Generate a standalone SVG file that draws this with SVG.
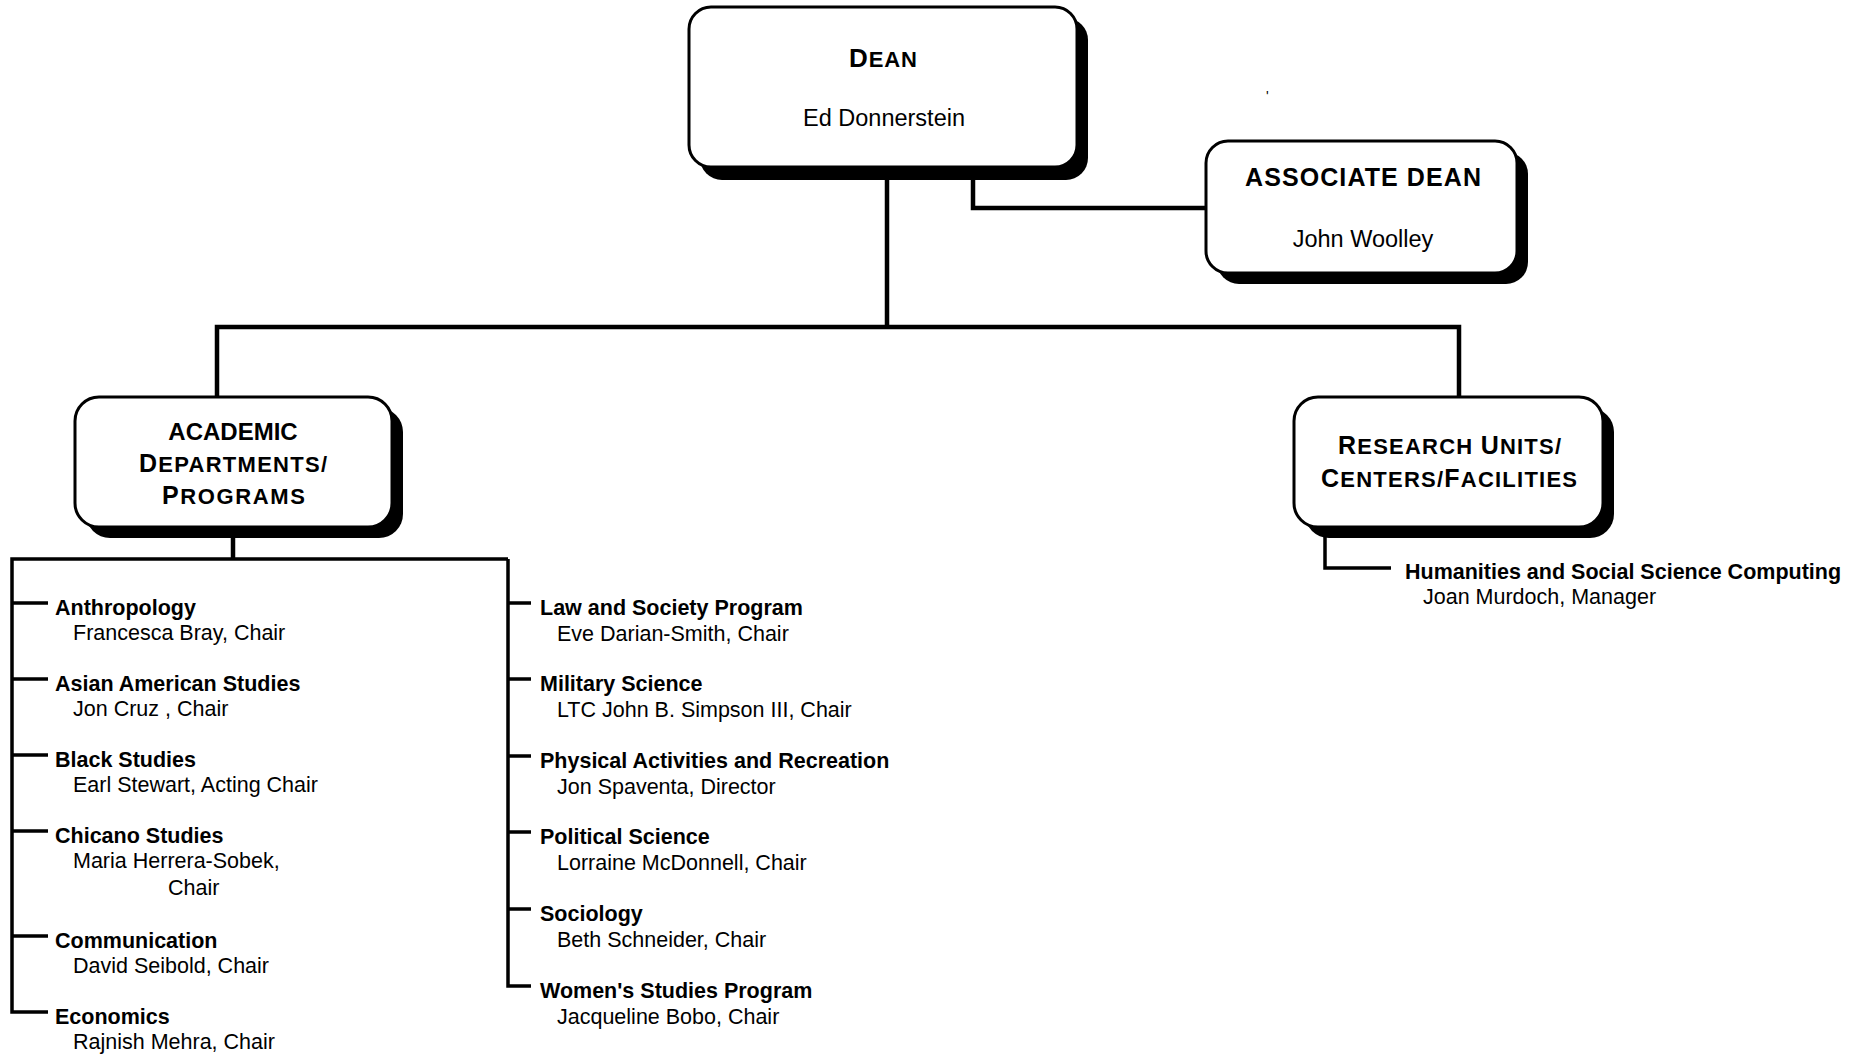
<svg xmlns="http://www.w3.org/2000/svg" width="1866" height="1054" viewBox="0 0 1866 1054">
<style>
.bg{fill:#fff}
.box{fill:#fff;stroke:#000;stroke-width:3}
.shadow{fill:#000}
text{font-family:"Liberation Sans",Arial,sans-serif;fill:#000}
.title{font-weight:bold}
.sub{font-size:23.5px}
.h{font-weight:bold;font-size:21.5px}
.n{font-size:21.5px}
.conn{fill:none;stroke:#000;stroke-width:4.5;stroke-linejoin:miter;stroke-linecap:butt}
.list{fill:none;stroke:#000;stroke-width:3.5;stroke-linejoin:miter}
</style>
<rect class="bg" x="0" y="0" width="1866" height="1054"/>
<g id="connectors">
<path class="conn" d="M887,167 V327"/>
<path class="conn" d="M217,397 V327 H1459 V397"/>
<path class="conn" d="M973,167 V208 H1206"/>
<path class="conn" d="M233,527 V559"/>
<path class="list" d="M508,559 H12 V1012 H48 M12,603 H48 M12,679 H48 M12,755 H48 M12,831 H48 M12,936 H48"/>
<path class="list" d="M508,559 V986 H531 M508,603 H531 M508,679 H531 M508,756 H531 M508,832 H531 M508,909 H531"/>
<path class="list" d="M1325,526 V568 H1391"/>
</g>
<g id="dean">
<rect class="shadow" x="700" y="18" width="388" height="162" rx="22"/>
<rect class="box" x="689" y="7" width="388" height="160" rx="22"/>
<text class="title" x="849" y="67" textLength="68" lengthAdjust="spacing"><tspan font-size="26">D</tspan><tspan font-size="22">EAN</tspan></text>
<text class="sub" x="884" y="126" text-anchor="middle">Ed Donnerstein</text>
</g>
<g id="mark">
<text x="1266" y="101" font-size="14">'</text>
</g>
<g id="associate-dean">
<rect class="shadow" x="1217" y="152" width="311" height="132" rx="22"/>
<rect class="box" x="1206" y="141" width="311" height="132" rx="22"/>
<text class="title" x="1245" y="186" font-size="25" textLength="236" lengthAdjust="spacing">ASSOCIATE DEAN</text>
<text class="sub" x="1363" y="247" text-anchor="middle">John Woolley</text>
</g>
<g id="academic">
<rect class="shadow" x="86" y="408" width="317" height="130" rx="24"/>
<rect class="box" x="75" y="397" width="317" height="130" rx="24"/>
<text class="title" x="233" y="440" font-size="24" text-anchor="middle">ACADEMIC</text>
<text class="title" x="139" y="472" textLength="188" lengthAdjust="spacing"><tspan font-size="25">D</tspan><tspan font-size="22">EPARTMENTS/</tspan></text>
<text class="title" x="162" y="504" textLength="143" lengthAdjust="spacing"><tspan font-size="25">P</tspan><tspan font-size="22">ROGRAMS</tspan></text>
</g>
<g id="research">
<rect class="shadow" x="1305" y="408" width="309" height="130" rx="24"/>
<rect class="box" x="1294" y="397" width="309" height="130" rx="24"/>
<text class="title" x="1338" y="454" textLength="223" lengthAdjust="spacing"><tspan font-size="25">R</tspan><tspan font-size="22">ESEARCH </tspan><tspan font-size="25">U</tspan><tspan font-size="22">NITS/</tspan></text>
<text class="title" x="1321" y="487" textLength="256" lengthAdjust="spacing"><tspan font-size="25">C</tspan><tspan font-size="22">ENTERS/</tspan><tspan font-size="25">F</tspan><tspan font-size="22">ACILITIES</tspan></text>
</g>
<g id="hssc">
<text class="h" x="1405" y="579">Humanities and Social Science Computing</text>
<text class="n" x="1423" y="604">Joan Murdoch, Manager</text>
</g>
<g id="anthropology">
<text class="h" x="55" y="615">Anthropology</text>
<text class="n" x="73" y="640">Francesca Bray, Chair</text>
</g>
<g id="asian-american-studies">
<text class="h" x="55" y="691">Asian American Studies</text>
<text class="n" x="73" y="716">Jon Cruz , Chair</text>
</g>
<g id="black-studies">
<text class="h" x="55" y="767">Black Studies</text>
<text class="n" x="73" y="792">Earl Stewart, Acting Chair</text>
</g>
<g id="chicano-studies">
<text class="h" x="55" y="843">Chicano Studies</text>
<text class="n" x="73" y="868">Maria Herrera-Sobek,</text>
<text class="n" x="168" y="895">Chair</text>
</g>
<g id="communication">
<text class="h" x="55" y="948">Communication</text>
<text class="n" x="73" y="973">David Seibold, Chair</text>
</g>
<g id="economics">
<text class="h" x="55" y="1024">Economics</text>
<text class="n" x="73" y="1049">Rajnish Mehra, Chair</text>
</g>
<g id="law-and-society">
<text class="h" x="540" y="615">Law and Society Program</text>
<text class="n" x="557" y="641">Eve Darian-Smith, Chair</text>
</g>
<g id="military-science">
<text class="h" x="540" y="691">Military Science</text>
<text class="n" x="557" y="717">LTC John B. Simpson III, Chair</text>
</g>
<g id="physical-activities">
<text class="h" x="540" y="768">Physical Activities and Recreation</text>
<text class="n" x="557" y="794">Jon Spaventa, Director</text>
</g>
<g id="political-science">
<text class="h" x="540" y="844">Political Science</text>
<text class="n" x="557" y="870">Lorraine McDonnell, Chair</text>
</g>
<g id="sociology">
<text class="h" x="540" y="921">Sociology</text>
<text class="n" x="557" y="947">Beth Schneider, Chair</text>
</g>
<g id="womens-studies">
<text class="h" x="540" y="998">Women's Studies Program</text>
<text class="n" x="557" y="1024">Jacqueline Bobo, Chair</text>
</g>
</svg>
